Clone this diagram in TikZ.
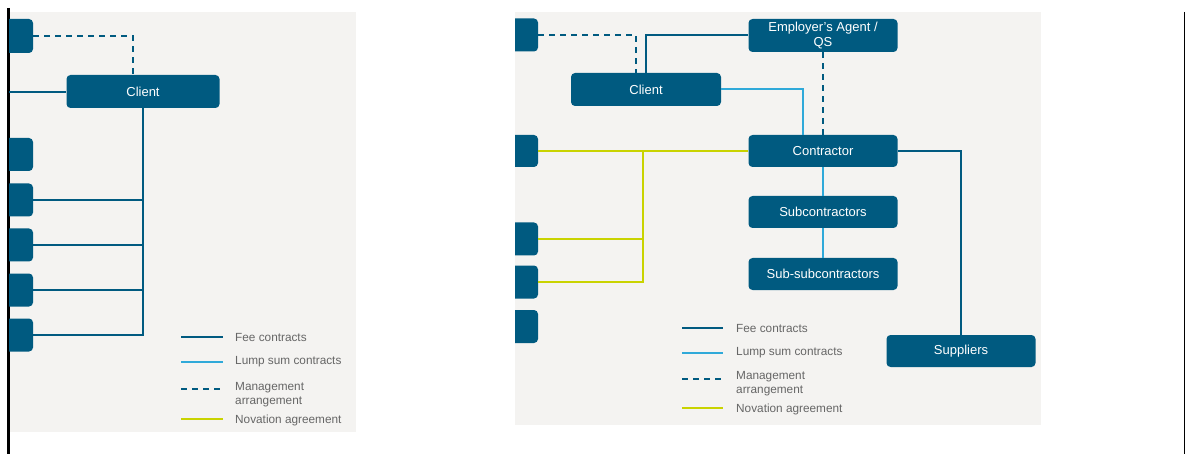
\documentclass[tikz,border=0pt]{standalone}
\usepackage{fontspec}
\setmainfont{Liberation Sans}
\usetikzlibrary{calc}
\definecolor{nodeblue}{HTML}{005A80}
\definecolor{lumpblue}{HTML}{2FA9D9}
\definecolor{novyellow}{HTML}{C9D300}
\definecolor{panelbg}{HTML}{F4F3F1}
\definecolor{legendgray}{HTML}{666666}
\tikzset{
  box/.style={draw=none, fill=nodeblue, rounded corners=4pt, text=white, inner sep=0pt,
    font=\fontsize{13}{15}\selectfont, align=center},
  fee/.style={draw=nodeblue, line width=2pt},
  lump/.style={draw=lumpblue, line width=2pt},
  mgmt/.style={draw=nodeblue, line width=2pt, dash pattern=on 6pt off 5pt},
  nov/.style={draw=novyellow, line width=2pt},
  legtext/.style={text=legendgray, inner sep=0pt, anchor=west, align=left,
    font=\fontsize{11.8}{14}\selectfont},
}
\begin{document}
\begin{tikzpicture}[x=1pt,y=-1pt]
\useasboundingbox (0,0) rectangle (1185,454);
% panel backgrounds
\fill[panelbg] (9,12) rectangle (356,432);
\fill[panelbg] (515,12) rectangle (1041,425);
% black edge lines
\draw[black, line width=2.5pt] (8.5,8) -- (8.5,454);
\draw[black, line width=1.3pt] (1184.3,12) -- (1184.3,454);

% ---------- left panel ----------
\begin{scope}
\clip (9,12) rectangle (356,432);
\node[box, minimum width=60pt, minimum height=34pt] (L1) at (3,36) {};
\node[box, minimum width=60pt, minimum height=33pt] (L2) at (3,154.5) {};
\node[box, minimum width=60pt, minimum height=33pt] (L3) at (3,200) {};
\node[box, minimum width=60pt, minimum height=33pt] (L4) at (3,245) {};
\node[box, minimum width=60pt, minimum height=33pt] (L5) at (3,290) {};
\node[box, minimum width=60pt, minimum height=33pt] (L6) at (3,335) {};
\end{scope}
\node[box, minimum width=153pt, minimum height=33pt] (LC) at (143,91.5) {Client};
\coordinate (Lin) at (9,92);
\draw[mgmt] (L1.east) -| ([xshift=-10pt]LC.north);
\draw[fee] (Lin) -- (Lin -| LC.west);
\draw[fee] (LC.south) |- (L6.east);
\draw[fee] (L3.east) -- (L3.east -| LC.south);
\draw[fee] (L4.east) -- (L4.east -| LC.south);
\draw[fee] (L5.east) -- (L5.east -| LC.south);
% left legend
\coordinate (la1) at (181,337); \coordinate (lb1) at (223,337);
\coordinate (la2) at (181,362); \coordinate (lb2) at (223,362);
\coordinate (la3) at (181,389); \coordinate (lb3) at (223,389);
\coordinate (la4) at (181,419); \coordinate (lb4) at (223,419);
\draw[fee] (la1) -- (lb1);
\draw[lump] (la2) -- (lb2);
\draw[mgmt] (la3) -- (lb3);
\draw[nov] (la4) -- (lb4);
\node[legtext] (lt1) at (235,337) {Fee contracts};
\node[legtext] (lt2) at (235,362) {Lump sum contracts};
\node[legtext] (lt3) at (235,395) {Management\\arrangement};
\node[legtext] (lt4) at (235,420) {Novation agreement};

% ---------- right panel ----------
\begin{scope}
\clip (515,12) rectangle (1041,425);
\node[box, minimum width=60pt, minimum height=33pt] (R1) at (508,35) {};
\node[box, minimum width=60pt, minimum height=32pt] (R2) at (508,151) {};
\node[box, minimum width=60pt, minimum height=33pt] (R3) at (508,239) {};
\node[box, minimum width=60pt, minimum height=33pt] (R4) at (508,282) {};
\node[box, minimum width=60pt, minimum height=33pt] (R5) at (508,326.5) {};
\end{scope}
\node[box, minimum width=149pt, minimum height=33pt] (EA) at (823,35.5) {Employer's Agent /\\QS};
\node[box, minimum width=150pt, minimum height=33pt] (RC) at (646,89.5) {Client};
\node[box, minimum width=149pt, minimum height=32pt] (Con) at (823,151) {Contractor};
\node[box, minimum width=149pt, minimum height=32pt] (Sub) at (823,212) {Subcontractors};
\node[box, minimum width=149pt, minimum height=32pt] (SS) at (823,274) {Sub-subcontractors};
\node[box, minimum width=149pt, minimum height=32pt] (Sup) at (961,351) {Suppliers};
\coordinate (nj) at (643,151);
\coordinate (rcl) at (721,89);
\draw[mgmt] (R1.east) -| ([xshift=-10pt]RC.north);
\draw[fee] (RC.north) |- (R1.east -| EA.west);
\draw[lump] (rcl) -| ([xshift=-20pt]Con.north);
\draw[mgmt] (EA.south) -- (Con.north);
\draw[nov] (R2.east) -- (Con.west);
\draw[nov] (R4.east) -| (nj);
\draw[nov] (R3.east) -- (R3.east -| nj);
\draw[lump] (Con.south) -- (Sub.north);
\draw[lump] (Sub.south) -- (SS.north);
\draw[fee] (Con.east) -| (Sup.north);
% right legend
\coordinate (ra1) at (682,328); \coordinate (rb1) at (723,328);
\coordinate (ra2) at (682,353); \coordinate (rb2) at (723,353);
\coordinate (ra3) at (682,379); \coordinate (rb3) at (723,379);
\coordinate (ra4) at (682,408); \coordinate (rb4) at (723,408);
\draw[fee] (ra1) -- (rb1);
\draw[lump] (ra2) -- (rb2);
\draw[mgmt] (ra3) -- (rb3);
\draw[nov] (ra4) -- (rb4);
\node[legtext] (rt1) at (736,328) {Fee contracts};
\node[legtext] (rt2) at (736,353) {Lump sum contracts};
\node[legtext] (rt3) at (736,384) {Management\\arrangement};
\node[legtext] (rt4) at (736,409) {Novation agreement};
\end{tikzpicture}
\end{document}
